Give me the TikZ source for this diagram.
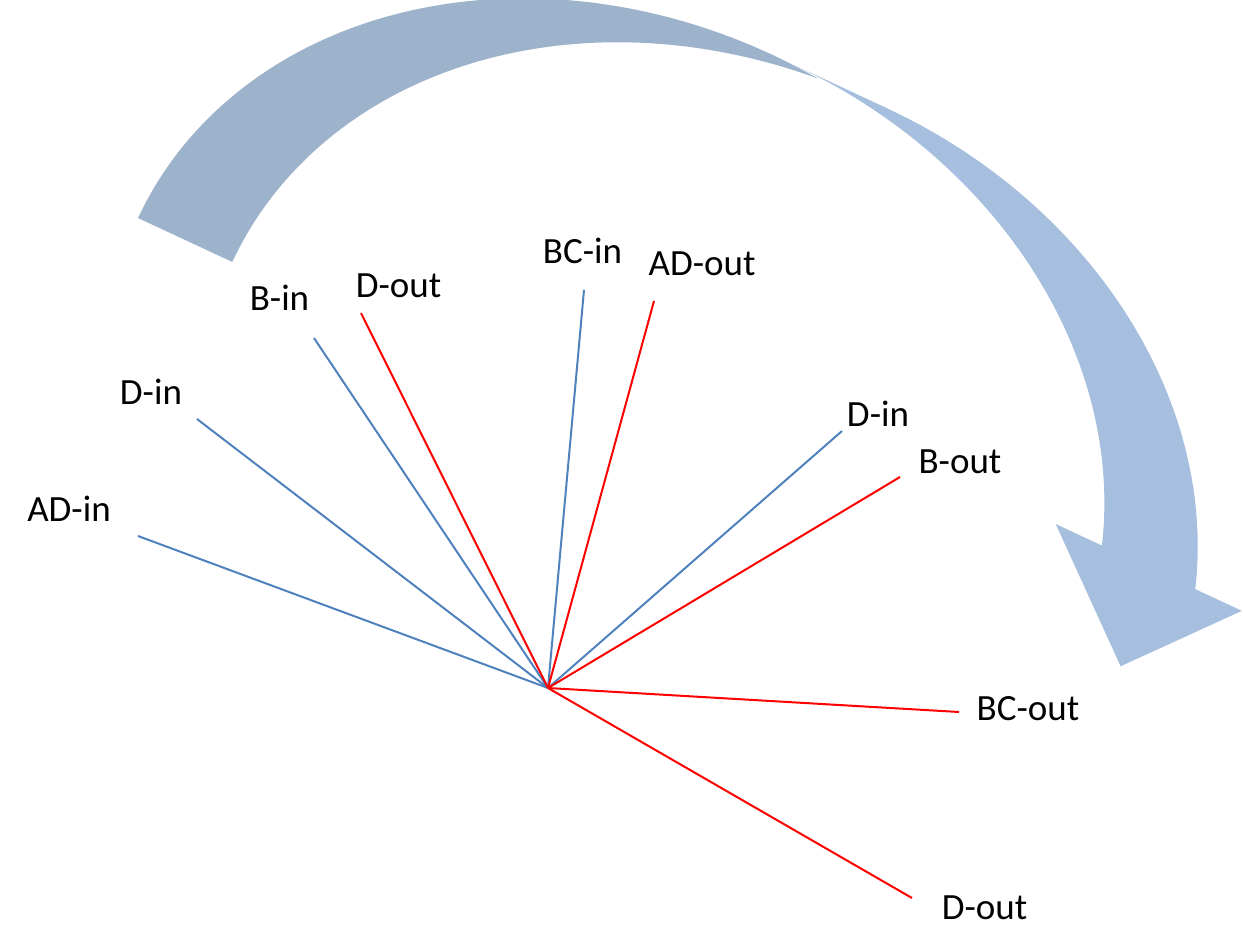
\documentclass[tikz,border=0pt]{standalone}
\usepackage{fontspec}
\setmainfont{Carlito}
\definecolor{inblue}{HTML}{4F81BD}
\definecolor{outred}{HTML}{FF0000}
\definecolor{arrowback}{HTML}{9DB2CB}
\definecolor{arrowfront}{HTML}{A7BFDE}
\begin{document}
\begin{tikzpicture}[x=0.5pt,y=-0.5pt,
  inline/.style={draw=inblue, line width=1pt},
  outline/.style={draw=outred, line width=1pt},
  lbl/.style={font=\fontsize{18.5}{22}\selectfont, inner sep=0pt, anchor=base}]
\useasboundingbox (0,0) rectangle (1243,937);
% curved arrow (drawn in a frame rotated by 25 degrees)
\coordinate (tail) at (138,218);
\begin{scope}[shift={(tail)}, x={(0.45315pt,-0.2113pt)}, y={(0.2113pt,0.45315pt)}]
 \fill[arrowfront] (1080,9) -- (961,110.5) -- (1012,110.5)
   -- plot[domain=15.4:90, samples=60, variable=\t] ({530+500*cos(\t)},{416*sin(\t)})
   -- (633,416)
   -- plot[domain=90:15.4, samples=60, variable=\t] ({633+500*cos(\t)},{416*sin(\t)})
   -- (1166.5,110.5) -- cycle;
 \fill[arrowback] plot[domain=180:84.1, samples=80, variable=\t] ({505.5+505.5*cos(\t)},{416*sin(\t)})
   -- plot[domain=95.9:180, samples=80, variable=\t] ({609.5+505.5*cos(\t)},{416*sin(\t)}) -- cycle;
\end{scope}
% hub and line ends
\coordinate (c) at (548,688);
\coordinate (adin) at (138,536);
\coordinate (dinl) at (197,419);
\coordinate (bin) at (314,338);
\coordinate (doutt) at (361,313);
\coordinate (bcin) at (584,290);
\coordinate (adout) at (654,301);
\coordinate (dinr) at (842,431);
\coordinate (bout) at (900,477);
\coordinate (bcout) at (959,712);
\coordinate (doutb) at (912,898);
% lines
\draw[inline] (c) -- (adin);
\draw[inline] (c) -- (dinl);
\draw[inline] (c) -- (bin);
\draw[inline] (c) -- (bcin);
\draw[inline] (c) -- (dinr);
\draw[outline] (c) -- (doutt);
\draw[outline] (c) -- (adout);
\draw[outline] (c) -- (bout);
\draw[outline] (c) -- (bcout);
\draw[outline] (c) -- (doutb);
% labels
\node[lbl] (ladin) at (69,521) {AD-in};
\node[lbl] (ldinl) at (151,404) {D-in};
\node[lbl] (lbin) at (279.5,310) {B-in};
\node[lbl] (ldoutt) at (398.5,297) {D-out};
\node[lbl] (lbcin) at (582.5,263) {BC-in};
\node[lbl] (ladout) at (702,275) {AD-out};
\node[lbl] (ldinr) at (878,426) {D-in};
\node[lbl] (lbout) at (960,473) {B-out};
\node[lbl] (lbcout) at (1028,720) {BC-out};
\node[lbl] (ldoutb) at (984.5,919) {D-out};
\end{tikzpicture}
\end{document}
